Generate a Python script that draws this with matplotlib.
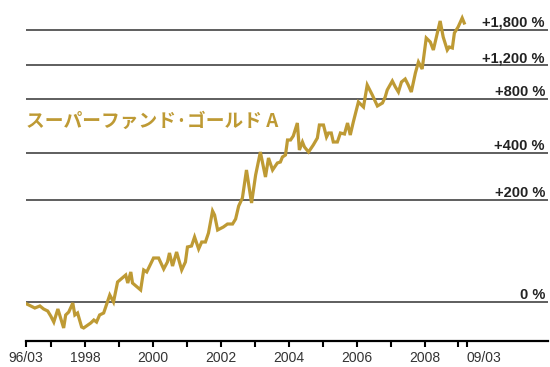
import matplotlib
matplotlib.use('Agg')
import matplotlib.pyplot as plt
import numpy as np

matplotlib.rcParams['font.family'] = ['Liberation Sans Narrow', 'Liberation Sans', 'DejaVu Sans']

# fund performance since 96/03, in %
dates = [1996.27, 1996.39, 1996.51, 1996.66, 1996.77, 1996.89, 1996.98, 1997.07, 1997.19, 1997.36,
         1997.42, 1997.51, 1997.63, 1997.69, 1997.77, 1997.89, 1997.95, 1998.16, 1998.25, 1998.33,
         1998.42, 1998.54, 1998.72, 1998.83, 1998.95, 1999.19, 1999.25, 1999.34, 1999.39, 1999.63,
         1999.72, 1999.81, 2000.01, 2000.16, 2000.31, 2000.42, 2000.48, 2000.57, 2000.69, 2000.84,
         2000.95, 2001.01, 2001.13, 2001.22, 2001.34, 2001.43, 2001.54, 2001.63, 2001.75, 2001.81,
         2001.90, 2002.07, 2002.19, 2002.34, 2002.43, 2002.52, 2002.63, 2002.75, 2002.90, 2003.02,
         2003.16, 2003.31, 2003.40, 2003.52, 2003.66, 2003.75, 2003.81, 2003.90, 2003.96, 2004.05,
         2004.13, 2004.25, 2004.31, 2004.40, 2004.46, 2004.58, 2004.72, 2004.84, 2004.90, 2005.02,
         2005.11, 2005.17, 2005.25, 2005.31, 2005.43, 2005.52, 2005.64, 2005.73, 2005.81, 2005.90,
         2006.05, 2006.20, 2006.31, 2006.46, 2006.61, 2006.76, 2006.84, 2006.90, 2007.05, 2007.14,
         2007.23, 2007.32, 2007.43, 2007.52, 2007.61, 2007.73, 2007.82, 2007.93, 2008.05, 2008.17,
         2008.26, 2008.46, 2008.55, 2008.67, 2008.73, 2008.82, 2008.88, 2008.99, 2009.11, 2009.17]
perf = [-2.1, -4.2, -6.3, -4.2, -7.3, -9.3, -14.1, -19.5, -7.3, -24.5,
        -13.1, -10.3, -1.1, -13.1, -11.2, -23.7, -24.5, -20.3, -17.7, -19.5,
        -13.1, -11.2, 7.9, 0.0, 24.2, 33.9, 22.8, 38.4, 22.8, 13.9,
        41.4, 38.4, 61.0, 61.0, 42.9, 54.2, 70.0, 47.6, 71.8, 41.4,
        54.2, 81.4, 83.3, 102.1, 77.5, 91.4, 91.4, 111.0, 167.8, 156.4,
        118.0, 125.2, 132.6, 132.6, 145.5, 182.6, 208.2, 317.3, 192.0, 295.3,
        407.0, 286.8, 375.2, 317.3, 350.1, 355.0, 380.3, 390.9, 477.4, 477.4,
        502.9, 593.9, 418.2, 465.0, 435.2, 407.0, 447.0, 490.0, 579.1, 579.1,
        496.4, 522.8, 522.8, 465.0, 465.0, 522.8, 516.1, 593.9, 509.4, 601.5,
        771.1, 725.2, 947.1, 839.7, 734.2, 761.8, 819.6, 892.0, 993.4, 924.7,
        870.6, 981.7, 1017.3, 947.1, 870.6, 1092.4, 1243.0, 1145.1, 1641.4, 1567.7,
        1429.3, 1993.3, 1660.3, 1429.3, 1480.0, 1462.7, 1738.2, 1861.5, 2062.2, 1948.3]

levels = [0, 200, 400, 800, 1200, 1800]
level_labels = ['0 %', '+200 %', '+400 %', '+800 %', '+1,200 %', '+1,800 %']

tick_pos = [1996.25] + list(range(1997, 2010)) + [2009.25]
tick_labels = ['96/03', '', '1998', '', '2000', '', '2002', '', '2004', '', '2006', '', '2008', '', '09/03']

gold = '#BE9A34'

fig = plt.figure(figsize=(5.5, 3.67), dpi=100)
ax = fig.add_axes([26/550, 26/367, 522/550, 341/367])

ratio = 1 + np.array(perf) / 100.0
ax.set_yscale('log')
ax.set_xlim(1996.273, 2011.64)
ax.set_ylim(0.6557, 26.27)

for lv, lab in zip(levels, level_labels):
    r = 1 + lv / 100.0
    ax.axhline(r, color='#333333', lw=1.1, zorder=1)
    ax.annotate(lab, xy=(1, r), xycoords=('axes fraction', 'data'),
                xytext=(-3, 3), textcoords='offset pixels',
                ha='right', va='baseline', fontsize=10.5, fontweight='bold', color='#222222')

ax.plot(dates, ratio, color=gold, lw=2.3, solid_joinstyle='miter', zorder=3)

# fund name, sits between the +400 % and +800 % lines
ax.text(0.0, 7.1, 'スーパーファンド·ゴールド A', transform=ax.get_yaxis_transform(),
        family=['Noto Sans CJK JP', 'DejaVu Sans'], fontsize=13.5, fontweight='bold',
        color=gold, va='center', ha='left')

for s in ['top', 'left', 'right']:
    ax.spines[s].set_visible(False)
ax.spines['bottom'].set_linewidth(1.6)
ax.set_yticks([])
ax.yaxis.set_minor_locator(matplotlib.ticker.NullLocator())
ax.set_xticks(tick_pos)
ax.set_xticklabels(tick_labels)
ax.tick_params(axis='x', direction='out', length=4, width=1.5, pad=3,
               labelsize=10, labelcolor='#333333')
labels = ax.get_xticklabels()
labels[-1].set_ha('left')
labels[-1].set_x(2009.25)

fig.savefig('out.png', dpi=100)
